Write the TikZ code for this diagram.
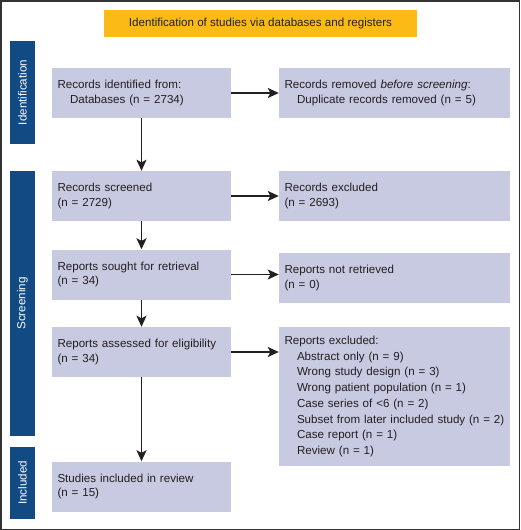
\documentclass[tikz,border=0pt]{standalone}
\usepackage{fontspec}
\setmainfont{Liberation Sans}
\usepackage{tikz}
\usetikzlibrary{arrows.meta}

\definecolor{boxfill}{RGB}{200,202,225}
\definecolor{barblue}{RGB}{18,74,132}
\definecolor{bannerfill}{RGB}{251,186,22}
\definecolor{inktext}{RGB}{35,31,32}
\newcommand{\ind}{\hspace*{12.5pt}}

\begin{document}
\begin{tikzpicture}[
    x=1pt, y=-1pt,
    every node/.style={font=\fontsize{11.6}{14.6}\selectfont, text=inktext},
    leftbox/.style={fill=boxfill, minimum height=50pt, text width=168pt,
        inner xsep=5.5pt, align=left},
    rightbox/.style={fill=boxfill, minimum height=50pt, text width=220pt,
        inner xsep=5.5pt, align=left},
    sidebar/.style={fill=barblue, text=white, rotate=90, minimum height=25pt,
        inner sep=0pt},
    flow/.style={-{Stealth[length=11pt,width=10pt,inset=2.5pt]}, line width=1.6pt,
        draw=inktext}
]
\useasboundingbox (0,0) rectangle (520,530);
\draw[line width=1.5pt, draw=black!80] (0.75,0.75) rectangle (519.25,529.25);

\node[fill=bannerfill, minimum width=313pt, minimum height=27pt] (banner) at (260.5,23.5)
    {Identification of studies via databases and registers};

\node[sidebar, minimum width=103pt] (barident) at (22.5,92.5) {Identification};
\node[sidebar, minimum width=265pt] (barscreen) at (22.5,303.5) {Screening};
\node[sidebar, minimum width=72pt] (barincl) at (22.5,483) {Included};

\node[leftbox] (identified) at (141.5,93) {Records identified from:\\\ind Databases (n = 2734)};
\node[rightbox] (removed) at (394.5,93) {Records removed \emph{before screening}:\\\ind Duplicate records removed (n = 5)};
\node[leftbox] (screened) at (141.5,196) {Records screened\\(n = 2729)};
\node[rightbox] (recexcl) at (394.5,196) {Records excluded\\(n = 2693)};
\node[leftbox] (sought) at (141.5,274.5) {Reports sought for retrieval\\(n = 34)};
\node[rightbox] (notret) at (394.5,278) {Reports not retrieved\\(n = 0)};
\node[leftbox] (assessed) at (141.5,352) {Reports assessed for eligibility\\(n = 34)};
\node[rightbox, minimum height=139pt, font=\fontsize{11.6}{15.7}\selectfont] (repexcl) at (394.5,396.5)
    {Reports excluded:\\\ind Abstract only (n = 9)\\\ind Wrong study design (n = 3)\\\ind Wrong patient population (n = 1)\\\ind Case series of <6 (n = 2)\\\ind Subset from later included study (n = 2)\\\ind Case report (n = 1)\\\ind Review (n = 1)};
\node[leftbox] (included) at (141.5,486.5) {Studies included in review\\(n = 15)};

\draw[flow] (identified) -- (screened);
\draw[flow] (screened) -- (sought);
\draw[flow] (sought) -- (assessed);
\draw[flow] (assessed) -- (included);
\draw[flow] (identified.east) -- (identified.east -| removed.west);
\draw[flow] (screened.east) -- (screened.east -| recexcl.west);
\draw[flow] (sought.east) -- (sought.east -| notret.west);
\draw[flow] (assessed.east) -- (assessed.east -| repexcl.west);
\end{tikzpicture}
\end{document}
